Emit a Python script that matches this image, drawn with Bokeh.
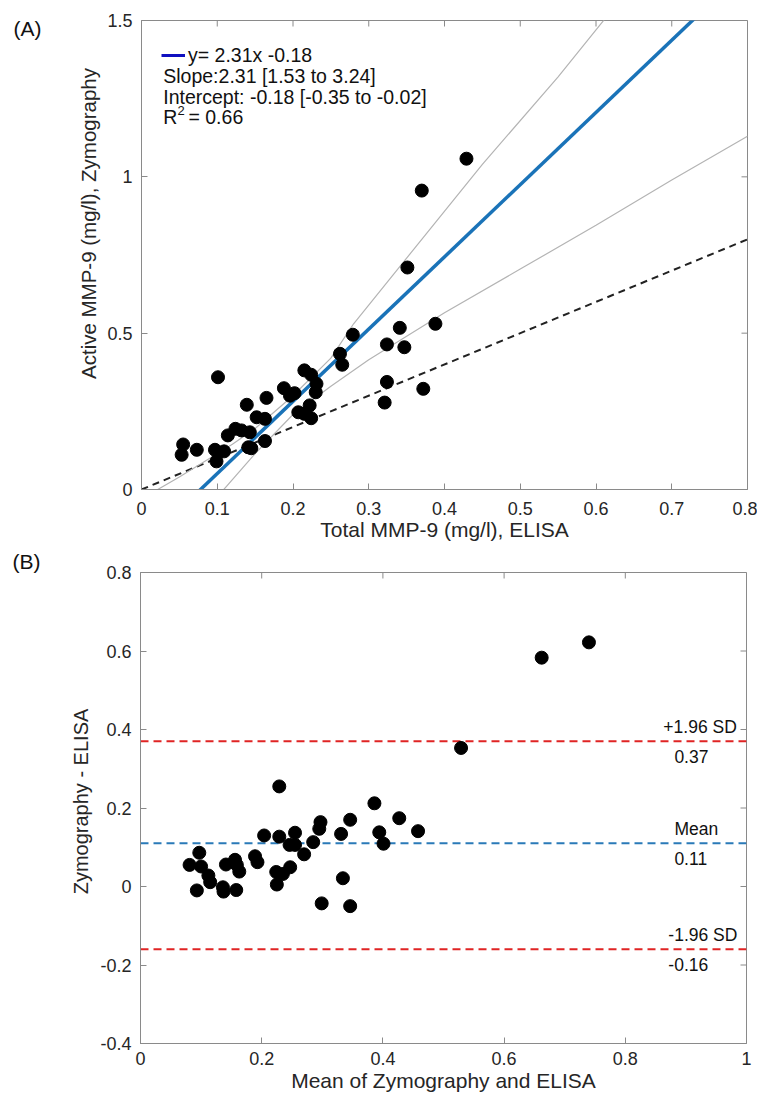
import math
from bokeh.plotting import figure
from bokeh.layouts import column, row
from bokeh.models import Range1d, FixedTicker, Label, Legend, LegendItem
from bokeh.embed import file_html
from bokeh.resources import INLINE

FONT = "Liberation Sans"
AXIS_COLOR = "#8a8a8a"
TEXT_COLOR = "#262626"

# ---------------- Panel A data ----------------
elisa = [0.101, 0.055, 0.053, 0.073, 0.097, 0.099, 0.109, 0.114, 0.124, 0.132,
         0.143, 0.139, 0.141, 0.145, 0.152, 0.163, 0.165, 0.163, 0.188, 0.196,
         0.202, 0.207, 0.215, 0.222, 0.224, 0.215, 0.224, 0.231, 0.230, 0.262,
         0.265, 0.279, 0.324, 0.321, 0.324, 0.341, 0.347, 0.372, 0.388, 0.351,
         0.370, 0.429]
zymo = [0.359, 0.144, 0.111, 0.127, 0.127, 0.090, 0.122, 0.173, 0.194, 0.189,
        0.183, 0.271, 0.135, 0.132, 0.231, 0.226, 0.293, 0.155, 0.324, 0.300,
        0.308, 0.247, 0.242, 0.269, 0.228, 0.381, 0.367, 0.338, 0.311, 0.434,
        0.399, 0.495, 0.344, 0.278, 0.464, 0.517, 0.455, 0.322, 0.530, 0.710,
        0.956, 1.058]
fit_slope = 2.31
fit_intercept = -0.18
fit_x = [0.0, 0.8]
identity_x = [0.0, 0.8]
ci_upper_x = [0.0, 0.05, 0.08, 0.12, 0.15, 0.20, 0.25, 0.28, 0.35, 0.45, 0.55, 0.65]
ci_upper_y = [-0.03, 0.04, 0.085, 0.145, 0.195, 0.30, 0.42, 0.53, 0.74, 1.04, 1.32, 1.62]
ci_lower_x = [0.105, 0.15, 0.20, 0.25, 0.30, 0.40, 0.50, 0.60, 0.70, 0.80]
ci_lower_y = [-0.01, 0.115, 0.24, 0.33, 0.415, 0.565, 0.705, 0.845, 0.99, 1.13]

a_xticks = [0, 0.1, 0.2, 0.3, 0.4, 0.5, 0.6, 0.7, 0.8]
a_xlabels = ["0", "0.1", "0.2", "0.3", "0.4", "0.5", "0.6", "0.7", "0.8"]
a_yticks = [0, 0.5, 1, 1.5]
a_ylabels = ["0", "0.5", "1", "1.5"]

# ---------------- Panel B data ----------------
ba_mean = [0.081, 0.097, 0.100, 0.093, 0.112, 0.115, 0.136, 0.137, 0.141, 0.156,
           0.159, 0.163, 0.158, 0.189, 0.193, 0.204, 0.229, 0.229, 0.224, 0.225,
           0.235, 0.247, 0.246, 0.255, 0.255, 0.270, 0.285, 0.295, 0.297, 0.299,
           0.331, 0.346, 0.334, 0.346, 0.386, 0.394, 0.401, 0.427, 0.458, 0.529,
           0.662, 0.740]
ba_diff = [0.055, 0.086, 0.051, -0.010, 0.028, 0.011, -0.002, -0.013, 0.056, 0.068,
           0.055, 0.038, -0.009, 0.077, 0.062, 0.130, 0.255, 0.127, 0.037, 0.005,
           0.032, 0.049, 0.106, 0.137, 0.106, 0.082, 0.113, 0.147, 0.164, -0.043,
           0.134, 0.170, 0.021, -0.050, 0.212, 0.138, 0.109, 0.174, 0.141, 0.353,
           0.583, 0.622]
mean_diff = 0.11
loa_upper = 0.37
loa_lower = -0.16

b_xticks = [0, 0.2, 0.4, 0.6, 0.8, 1]
b_xlabels = ["0", "0.2", "0.4", "0.6", "0.8", "1"]
b_yticks = [-0.4, -0.2, 0, 0.2, 0.4, 0.6, 0.8]
b_ylabels = ["-0.4", "-0.2", "0", "0.2", "0.4", "0.6", "0.8"]

STRIP_A = 104  # strip left of plot A (panel letter and y-axis title)
STRIP_B = 96   # strip left of plot B


def style_axes(p, xt, xl, yt, yl, xlabel, xstand, xlabstand):
    p.xaxis.ticker = FixedTicker(ticks=xt)
    p.xaxis.major_label_overrides = {t: s for t, s in zip(xt, xl)}
    p.yaxis.ticker = FixedTicker(ticks=yt)
    p.yaxis.major_label_overrides = {t: s for t, s in zip(yt, yl)}
    p.xaxis.axis_label = xlabel
    for ax in (p.xaxis[0], p.yaxis[0]):
        ax.axis_line_color = AXIS_COLOR
        ax.major_tick_line_color = AXIS_COLOR
        ax.major_tick_in = 6
        ax.major_tick_out = 0
        ax.minor_tick_line_color = None
        ax.major_label_text_font = FONT
        ax.major_label_text_font_size = "18px"
        ax.major_label_text_color = TEXT_COLOR
        ax.axis_label_text_font = FONT
        ax.axis_label_text_font_size = "21px"
        ax.axis_label_text_font_style = "normal"
        ax.axis_label_text_color = TEXT_COLOR
    p.xaxis.major_label_standoff = xstand
    p.yaxis.major_label_standoff = 9
    p.xaxis.axis_label_standoff = xlabstand
    p.xgrid.grid_line_color = None
    p.ygrid.grid_line_color = None
    p.outline_line_color = AXIS_COLOR
    p.background_fill_color = "white"
    p.border_fill_color = "white"
    # inward ticks on the top and right edges of the box
    x0, x1 = p.x_range.start, p.x_range.end
    y0, y1 = p.y_range.start, p.y_range.end
    dy = 6 * (y1 - y0) / p.frame_height
    dx = 6 * (x1 - x0) / p.frame_width
    p.segment(x0=xt, y0=[y1] * len(xt), x1=xt, y1=[y1 - dy] * len(xt),
              line_color=AXIS_COLOR, line_width=1)
    p.segment(x0=[x1] * len(yt), y0=yt, x1=[x1 - dx] * len(yt), y1=yt,
              line_color=AXIS_COLOR, line_width=1)


def add_text(p, x, y, text, size="19.5px", align="left", color="#111111", angle=0):
    p.add_layout(Label(x=x, y=y, text=text, text_font=FONT, text_font_size=size,
                       text_align=align, text_baseline="middle", text_color=color,
                       angle=angle))


def strip(width, frame_h, title=None):
    s = figure(frame_width=width, frame_height=frame_h, x_range=Range1d(0, width),
               y_range=Range1d(frame_h, 0), output_backend="svg", toolbar_location=None,
               x_axis_location=None, y_axis_location=None, min_border=0, title=title)
    s.outline_line_color = None
    s.xgrid.grid_line_color = None
    s.ygrid.grid_line_color = None
    s.background_fill_color = "white"
    s.border_fill_color = "white"
    return s


# ---------------- Figure A ----------------
pa = figure(frame_width=606, frame_height=469, x_range=Range1d(0, 0.8), y_range=Range1d(0, 1.5),
            output_backend="svg", toolbar_location=None,
            min_border_left=140 - STRIP_A, min_border_right=10, min_border_top=20, min_border_bottom=56)
style_axes(pa, a_xticks, a_xlabels, a_yticks, a_ylabels, "Total MMP-9 (mg/l), ELISA", 12, 0)

pa.line(identity_x, identity_x, line_color="#222222", line_width=2, line_dash="7 5")
pa.line(ci_upper_x, ci_upper_y, line_color="#b4b4b4", line_width=1.2)
pa.line(ci_lower_x, ci_lower_y, line_color="#b4b4b4", line_width=1.2)
fit_y = [fit_slope * x + fit_intercept for x in fit_x]
pa.line(fit_x, fit_y, line_color="#1a73b8", line_width=3.5)
pa.scatter(elisa, zymo, size=13, fill_color="black", line_color="black")

leg_fit = pa.line(fit_x, fit_y, line_color="#1010c0", line_width=3, visible=False)
legend = Legend(items=[LegendItem(label="y= 2.31x -0.18", renderers=[leg_fit])],
                location="top_left", margin=20, padding=11, glyph_width=24, glyph_height=30,
                label_standoff=3, label_text_font=FONT, label_text_font_size="19.5px",
                label_text_color="#111111", background_fill_alpha=0, border_line_color=None)
pa.add_layout(legend)

add_text(pa, 0.0287, 1.324, "Slope:2.31 [1.53 to 3.24]")
add_text(pa, 0.0287, 1.2545, "Intercept: -0.18 [-0.35 to -0.02]")
add_text(pa, 0.0287, 1.190, "R")
add_text(pa, 0.0475, 1.212, "2", size="13px")
add_text(pa, 0.0620, 1.190, "= 0.66")

# ---------------- Figure B ----------------
pb = figure(frame_width=606, frame_height=471, x_range=Range1d(0, 1), y_range=Range1d(-0.4, 0.8),
            output_backend="svg", toolbar_location=None,
            min_border_left=140 - STRIP_B, min_border_right=10, min_border_top=27, min_border_bottom=54)
style_axes(pb, b_xticks, b_xlabels, b_yticks, b_ylabels, "Mean of Zymography and ELISA", 8, 1)

pb.line([0, 1], [loa_upper, loa_upper], line_color="#e02424", line_width=2, line_dash="8 5")
pb.line([0, 1], [mean_diff, mean_diff], line_color="#2a7ab8", line_width=2, line_dash="8 5")
pb.line([0, 1], [loa_lower, loa_lower], line_color="#e02424", line_width=2, line_dash="8 5")
pb.scatter(ba_mean, ba_diff, size=13, fill_color="black", line_color="black")

add_text(pb, 0.984, loa_upper + 0.036, "+1.96 SD", size="17.5px", align="right")
add_text(pb, 0.881, loa_upper - 0.038, "%.2f" % loa_upper, size="17.5px")
add_text(pb, 0.881, mean_diff + 0.036, "Mean", size="17.5px")
add_text(pb, 0.881, mean_diff - 0.038, "%.2f" % mean_diff, size="17.5px")
add_text(pb, 0.871, loa_lower + 0.036, "-1.96 SD", size="17.5px")
add_text(pb, 0.871, loa_lower - 0.038, "%.2f" % loa_lower, size="17.5px")

# ---------------- strips: panel letters and y-axis titles ----------------
sa = strip(STRIP_A, 469)
add_text(sa, 27, 8, "(A)", size="21px", align="center")
add_text(sa, 88, 203, "Active MMP-9 (mg/l), Zymography", size="20.5px", align="center",
         color=TEXT_COLOR, angle=math.pi / 2)

sb = strip(STRIP_B, 471, title="(B)")
sb.title.text_font = FONT
sb.title.text_font_size = "21px"
sb.title.text_font_style = "normal"
sb.title.text_color = "#111111"
sb.title.align = "left"
sb.title.offset = 12
sb.title.standoff = 0
add_text(sb, 80, 229, "Zymography - ELISA", size="20px", align="center",
         color=TEXT_COLOR, angle=math.pi / 2)

layout = column(row(sa, pa, spacing=0), row(sb, pb, spacing=0), spacing=0)
open("out.html", "w").write(file_html(layout, INLINE))
